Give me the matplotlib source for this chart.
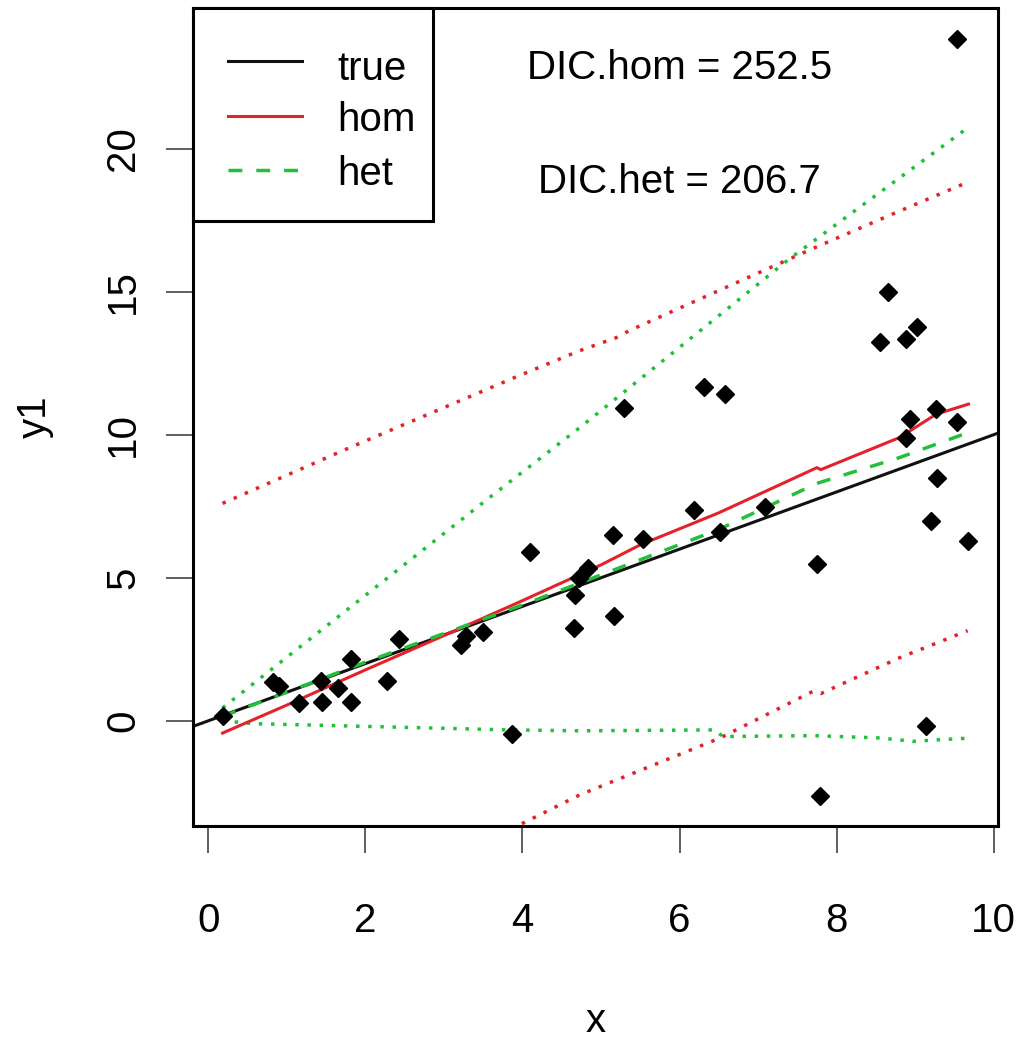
import matplotlib
matplotlib.use("Agg")
import matplotlib.pyplot as plt
from matplotlib.patches import Rectangle

# ---------------- data ----------------
x_obs = [0.18, 0.82, 0.90, 1.15, 1.44, 1.45, 1.65, 1.81, 1.82, 2.28,
         2.43, 3.22, 3.28, 3.50, 3.87, 4.09, 4.67, 4.66, 4.72, 4.83,
         5.15, 5.17, 5.29, 5.53, 6.18, 6.31, 6.51, 6.58, 7.09, 7.75,
         7.79, 8.55, 8.66, 8.88, 8.89, 8.93, 9.03, 9.14, 9.20, 9.27,
         9.28, 9.53, 9.54, 9.68]
y_obs = [0.18, 1.34, 1.20, 0.62, 1.38, 0.64, 1.14, 2.17, 0.64, 1.40,
         2.87, 2.65, 2.95, 3.11, -0.47, 5.91, 4.41, 3.25, 5.00, 5.35,
         6.51, 3.68, 10.95, 6.34, 7.36, 11.67, 6.60, 11.44, 7.47, 5.49,
         -2.62, 13.25, 14.98, 9.90, 13.35, 10.54, 13.78, -0.20, 7.00, 10.89,
         8.50, 23.85, 10.46, 6.30]

true_intercept = 0.0
true_slope = 1.0

hom_x = [0.18, 1.0, 2.0, 3.0, 4.0, 5.0, 5.5, 6.5, 7.75, 7.8, 8.8, 9.27, 9.68]
hom_mean = [-0.43, 0.55, 1.78, 2.98, 4.20, 5.45, 6.15, 7.27, 8.85, 8.78, 9.90, 10.72, 11.07]
hom_up_x = [0.18, 1.8, 3.9, 4.73, 5.2, 5.36, 7.69, 8.7, 9.68]
hom_upper = [7.6, 9.55, 12.0, 12.94, 13.4, 13.64, 16.5, 17.7, 18.84]
hom_lo_x = [0.18, 3.94, 4.73, 6.51, 7.7, 7.8, 8.8, 9.67]
hom_lower = [-8.3, -3.67, -2.59, -0.61, 1.03, 0.95, 2.2, 3.15]

het_x = [0.18, 2.0, 4.0, 5.0, 6.5, 7.75, 8.8, 9.68]
het_mean = [0.15, 2.05, 4.05, 5.10, 6.69, 8.30, 9.20, 10.08]
het_up_x = [0.18, 3.55, 4.73, 7.4, 9.68]
het_upper = [0.45, 7.74, 10.25, 16.15, 20.75]
het_lo_x = [0.18, 0.57, 3.84, 4.73, 6.45, 6.55, 7.7, 8.55, 8.97, 9.2, 9.67]
het_lower = [0.0, -0.1, -0.32, -0.35, -0.32, -0.55, -0.52, -0.6, -0.72, -0.68, -0.61]

legend_labels = ["true", "hom", "het"]
dic_text = ["DIC.hom = 252.5", "DIC.het = 206.7"]
dic_x = [6.0, 6.0]
dic_y = [22.45, 18.46]
x_ticks = [0, 2, 4, 6, 8, 10]
y_ticks = [0, 5, 10, 15, 20]

# ---------------- style ----------------
plt.rcParams['font.family'] = ['Liberation Sans', 'DejaVu Sans']
FS = 29
RED = '#e3222a'
GREEN = '#22c03a'
BLACK = '#111111'
LW = 2.2

fig = plt.figure(figsize=(10.28, 10.41), dpi=100)
ax = fig.add_axes([0.18745, 0.20653, 0.78366, 0.78549])

# limits like R's default 4% extension of the point range
xr = max(x_obs) - min(x_obs)
yr = max(y_obs) - min(y_obs)
ax.set_xlim(min(x_obs) - 0.04 * xr, max(x_obs) + 0.04 * xr)
ax.set_ylim(min(y_obs) - 0.04 * yr, max(y_obs) + 0.04 * yr)

dot = (0, (1.0, 2.5))
dash = (0, (4, 4))

ax.plot(hom_up_x, hom_upper, color=RED, lw=2.5, ls=dot)
ax.plot(hom_lo_x, hom_lower, color=RED, lw=2.5, ls=dot)
ax.plot(het_up_x, het_upper, color=GREEN, lw=2.5, ls=dot)
ax.plot(het_lo_x, het_lower, color=GREEN, lw=2.5, ls=dot)
ax.axline((0, true_intercept), slope=true_slope, color=BLACK, lw=LW)
ax.plot(hom_x, hom_mean, color=RED, lw=LW)
ax.plot(het_x, het_mean, color=GREEN, lw=2.5, ls=dash)
ax.plot(x_obs, y_obs, ls='none', marker='D', ms=9.5, color='black', zorder=4)

for t, xx, yy in zip(dic_text, dic_x, dic_y):
    ax.text(xx, yy, t, fontsize=FS, ha='center', va='baseline')

# legend (R style box in top-left corner)
ax.add_patch(Rectangle((0, 0.7402), 0.2983, 0.2598, transform=ax.transAxes,
                       facecolor='white', edgecolor='black', lw=LW, zorder=6,
                       clip_on=False))
leg_line_y = [0.9355, 0.8687, 0.8022]
leg_text_y = [0.9123, 0.8499, 0.7839]
leg_styles = [(BLACK, '-'), (RED, '-'), (GREEN, dash)]
for (c, s), ly, ty, lab in zip(leg_styles, leg_line_y, leg_text_y, legend_labels):
    ax.plot([0.04345, 0.1353], [ly, ly], transform=ax.transAxes, color=c,
            lw=2.5 if s is dash else LW, ls=s, zorder=7, clip_on=False)
    ax.text(0.1791, ty, lab, transform=ax.transAxes, fontsize=FS,
            ha='left', va='baseline', zorder=7)

# axes
for sp in ax.spines.values():
    sp.set_linewidth(LW)
    sp.set_color('black')
ax.set_xticks(x_ticks)
ax.set_yticks(y_ticks)
ax.set_xticklabels([str(v) for v in x_ticks])
ax.set_yticklabels([str(v) for v in y_ticks], rotation=90, va='center')
ax.tick_params(axis='both', direction='out', length=19.4, width=1.1,
               color='#333333', labelsize=FS)
ax.tick_params(axis='x', pad=35)
ax.tick_params(axis='y', pad=17)

ax.set_xlabel('x', fontsize=FS, va='baseline')
ax.xaxis.set_label_coords(0.5, (826 - 1032) / 817.7)
ax.set_ylabel('y1', fontsize=FS, va='center')
ax.yaxis.set_label_coords(-0.1958, 0.5)

fig.savefig('out.png', dpi=100)
